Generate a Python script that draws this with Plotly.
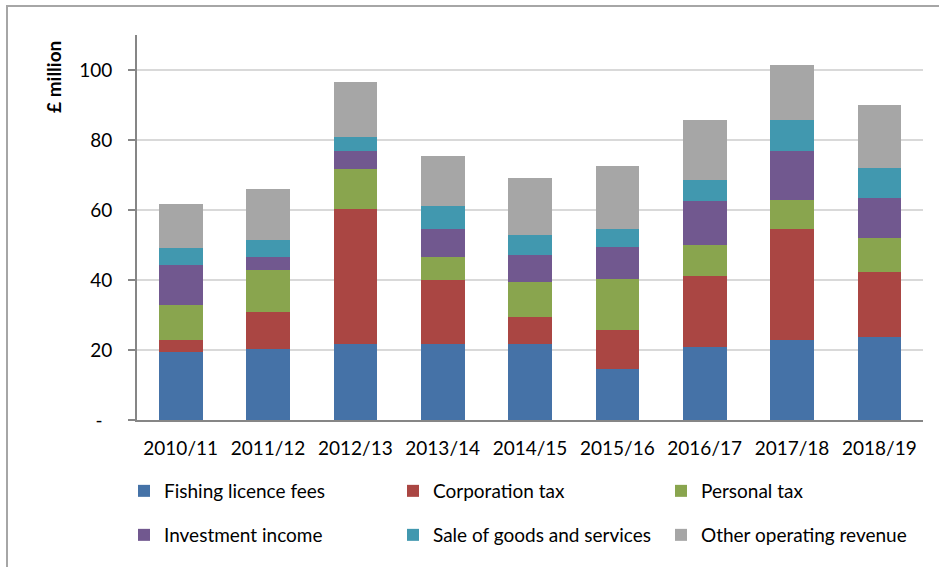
import plotly.graph_objects as go

years = ["2010/11", "2011/12", "2012/13", "2013/14", "2014/15", "2015/16", "2016/17", "2017/18", "2018/19"]
fishing_licence_fees = [19.3, 20.3, 21.6, 21.8, 21.7, 14.6, 20.8, 22.9, 23.8]
corporation_tax = [3.5, 10.6, 38.8, 18.1, 7.6, 11.2, 20.4, 31.6, 18.6]
personal_tax = [10.1, 12.0, 11.3, 6.6, 10.1, 14.5, 8.7, 8.5, 9.5]
investment_income = [11.4, 3.8, 5.2, 8.1, 7.7, 9.2, 12.8, 13.9, 11.6]
sale_of_goods = [4.9, 4.6, 4.1, 6.5, 5.8, 5.1, 6.0, 8.9, 8.6]
other_operating = [12.4, 14.6, 15.5, 14.2, 16.3, 18.1, 17.1, 15.6, 17.9]

tick_vals = [0, 20, 40, 60, 80, 100]
tick_text = ["-\u00a0\u00a0", "20", "40", "60", "80", "100"]

FONT = "Lato, Carlito, Calibri, sans-serif"
FS = 19

series = [
    ("Fishing licence fees", fishing_licence_fees, "#4572A7"),
    ("Corporation tax", corporation_tax, "#AA4643"),
    ("Personal tax", personal_tax, "#89A54E"),
    ("Investment income", investment_income, "#71588F"),
    ("Sale of goods and services", sale_of_goods, "#4198AF"),
    ("Other operating revenue", other_operating, "#A6A6A6"),
]

# legend grid (3 columns x 2 rows), pixel positions in the 939x567 canvas
leg_x = [124, 393, 661]
leg_y = [491, 535]

fig = go.Figure()
legends = {}
for i, (name, vals, color) in enumerate(series):
    lname = "legend" if i == 0 else f"legend{i + 1}"
    fig.add_trace(go.Bar(x=years, y=vals, name=name, marker_color=color,
                         marker_line_width=0, legend=lname, showlegend=True))
    legends[lname] = dict(orientation="h", xref="container", yref="container",
                          x=leg_x[i % 3] / 939, y=1 - leg_y[i // 3] / 567,
                          xanchor="left", yanchor="middle",
                          font=dict(family=FONT, size=FS, color="black"),
                          bgcolor="rgba(0,0,0,0)", itemwidth=30, visible=True)

fig.update_layout(
    width=939, height=567, autosize=False, showlegend=True,
    margin=dict(l=137, r=16, t=35, b=147),
    barmode="stack", bargap=0.5,
    paper_bgcolor="white", plot_bgcolor="white",
    font=dict(family=FONT, size=FS, color="black"),
    xaxis=dict(showline=True, linecolor="#868686", linewidth=2, ticks="",
               tickfont=dict(family=FONT, size=FS), showgrid=False,
               ticklabelstandoff=10),
    yaxis=dict(range=[0, 110], tickvals=tick_vals, ticktext=tick_text,
               showline=True, linecolor="#868686", linewidth=2,
               ticks="outside", ticklen=7, tickwidth=1.5, tickcolor="#868686",
               showgrid=True, gridcolor="#d9d9d9", gridwidth=1.5,
               tickfont=dict(family=FONT, size=FS), zeroline=False,
               ticklabelstandoff=12),
    shapes=[dict(type="rect", xref="paper", yref="paper",
                 x0=(7 - 137) / 786, x1=1.05, y0=(420 - 580) / 385, y1=(420 - 6) / 385,
                 line=dict(color="#a6a6a6", width=2), fillcolor="rgba(0,0,0,0)", layer="below")],
    annotations=[dict(text="<b>£ million</b>", textangle=-90, xref="paper", yref="paper",
                      x=(53 - 137) / 786, y=(420 - 77) / 385, showarrow=False,
                      xanchor="center", yanchor="middle",
                      font=dict(family=FONT, size=FS, color="black"))],
    **legends,
)

fig.write_html("out.html", config={"displayModeBar": False},
               post_script="document.body.style.margin='0';document.body.style.overflow='hidden';")
